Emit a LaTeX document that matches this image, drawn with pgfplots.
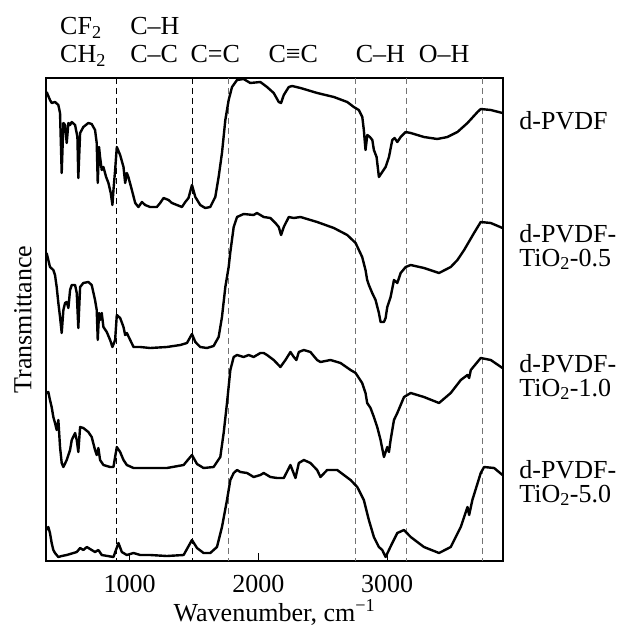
\documentclass[border=0pt]{standalone}
\usepackage{pgfplots}
\pgfplotsset{compat=1.18}
\usepackage{fontspec}
\setmainfont{Liberation Serif}
\newcommand{\bigf}{\fontsize{26}{24}\selectfont}
\begin{document}
\begin{tikzpicture}
\path[use as bounding box] (-46pt,-65pt) rectangle (571pt,561pt);
\begin{axis}[
  scale only axis, width=457pt, height=483pt,
  xmin=350, xmax=3900, ymin=78, ymax=561, y dir=reverse,
  xtick={1000,2000,3000}, xticklabels={1000,2000,3000},
  ytick=\empty, xtick pos=bottom, tick align=inside,
  major tick length=8pt,
  axis line style={line width=2.4pt},
  x tick style={line width=1pt, black},
  xticklabel style={font=\bigf, anchor=base, yshift=-31pt},
  xlabel={Wavenumber, cm\textsuperscript{−1}},
  xlabel style={font=\bigf, at={(axis description cs:0.5,0)}, anchor=base, yshift=-60pt},
  ylabel={Transmittance},
  ylabel style={font=\bigf, at={(axis description cs:-0.0503,0.5)}, anchor=center},
  clip=false,
]
% dashed guide lines
\addplot[black, line width=0.8pt, dash pattern=on 6pt off 4pt] coordinates {(900,78) (900,561)};
\addplot[black, line width=0.8pt, dash pattern=on 6pt off 4pt] coordinates {(1490,78) (1490,561)};
\addplot[black!55, line width=0.8pt, dash pattern=on 6pt off 4pt] coordinates {(1770,78) (1770,561)};
\addplot[black!55, line width=0.8pt, dash pattern=on 6pt off 4pt] coordinates {(2750,78) (2750,561)};
\addplot[black!55, line width=0.8pt, dash pattern=on 6pt off 4pt] coordinates {(3150,78) (3150,561)};
\addplot[black!55, line width=0.8pt, dash pattern=on 6pt off 4pt] coordinates {(3740,78) (3740,561)};
% d-PVDF
\addplot[black, line width=2.4pt, line join=round] coordinates {
(355,92)(381,100)(394,103)(420,102)(446,105)(459,113)(472,173)(485,123)(498,125)(511,143)
(524,123)(537,125)(550,122)(576,125)(594,137)(601,178)(615,133)(640,127)(679,123)(705,124)
(731,130)(744,143)(752,183)(762,147)(770,157)(783,170)(796,167)(817,177)(835,183)(853,193)
(866,205)(874,190)(887,170)(900,147)(926,155)(952,167)(965,183)(978,173)(990,177)(1017,190)
(1043,203)(1068,207)(1095,202)(1120,205)(1159,207)(1211,207)(1237,203)(1263,198)(1302,200)
(1328,203)(1367,205)(1406,207)(1432,202)(1457,198)(1484,185)(1510,197)(1548,205)(1587,208)
(1626,207)(1665,197)(1691,177)(1717,153)(1743,120)(1769,100)(1795,87)(1834,80)(1885,79)
(1937,83)(2015,82)(2067,87)(2119,93)(2158,102)(2176,103)(2197,95)(2236,87)(2262,86)(2327,88)
(2457,93)(2586,97)(2690,102)(2741,107)(2780,110)(2807,117)(2819,130)(2832,150)(2846,135)
(2866,137)(2885,140)(2897,150)(2918,157)(2936,177)(2962,172)(2988,167)(3014,157)(3040,140)
(3058,138)(3079,142)(3105,137)(3144,132)(3183,133)(3286,137)(3390,139)(3468,137)(3546,132)
(3624,123)(3702,112)(3727,109)(3805,110)(3896,113)
};
% d-PVDF-TiO2-0.5
\addplot[black, line width=2.4pt, line join=round] coordinates {
(355,253)(368,260)(381,267)(407,270)(420,275)(433,287)(446,303)(459,317)(472,333)(485,310)
(498,303)(511,302)(524,308)(537,290)(550,285)(576,285)(589,293)(601,328)(615,287)(640,283)
(679,282)(705,285)(731,300)(744,310)(752,340)(762,313)(770,320)(783,313)(796,327)(822,332)
(848,340)(866,347)(887,340)(900,315)(926,318)(952,327)(965,335)(978,333)(1004,340)(1030,347)
(1082,347)(1159,348)(1289,347)(1393,345)(1445,343)(1484,334)(1510,342)(1548,347)(1600,348)
(1652,346)(1691,337)(1717,317)(1743,287)(1769,267)(1782,252)(1808,227)(1834,217)(1885,214)
(1963,215)(1989,213)(2041,217)(2093,218)(2132,223)(2158,227)(2176,235)(2197,227)(2236,217)
(2275,218)(2327,217)(2456,222)(2586,228)(2690,235)(2755,243)(2806,257)(2832,270)(2845,280)
(2858,285)(2884,293)(2910,300)(2936,313)(2949,322)(2975,322)(2988,318)(3001,307)(3027,297)
(3053,280)(3079,283)(3105,273)(3144,267)(3183,265)(3286,268)(3403,273)(3494,267)(3546,260)
(3598,250)(3675,233)(3727,222)(3805,223)(3896,228)
};
% d-PVDF-TiO2-1.0
\addplot[black, line width=2.4pt, line join=round] coordinates {
(355,393)(368,392)(381,400)(394,407)(407,417)(420,423)(433,430)(446,420)(459,447)(472,463)
(485,467)(511,460)(537,450)(550,440)(576,433)(589,440)(601,452)(615,427)(640,428)(679,432)
(705,437)(731,450)(744,455)(757,448)(770,460)(796,465)(848,467)(874,467)(900,447)(926,452)
(952,460)(978,465)(1030,468)(1159,468)(1289,468)(1419,465)(1484,455)(1523,464)(1574,468)
(1652,467)(1704,457)(1730,433)(1756,403)(1782,370)(1808,357)(1834,355)(1885,357)(1925,355)
(1963,357)(2015,353)(2041,353)(2067,355)(2119,360)(2171,367)(2210,360)(2249,352)(2275,357)
(2295,360)(2314,352)(2353,350)(2404,352)(2456,360)(2482,362)(2560,360)(2638,363)(2716,370)
(2755,373)(2806,383)(2832,393)(2845,403)(2871,408)(2897,417)(2923,427)(2949,440)(2975,457)
(2988,452)(3001,447)(3014,452)(3027,440)(3053,420)(3079,413)(3131,397)(3183,393)(3286,397)
(3403,403)(3494,393)(3572,380)(3624,375)(3637,378)(3650,370)(3727,358)(3805,360)(3896,368)
};
% d-PVDF-TiO2-5.0
\addplot[black, line width=2.4pt, line join=round] coordinates {
(355,530)(368,527)(381,533)(394,543)(407,550)(420,553)(446,557)(472,556)(511,555)(563,553)
(589,552)(615,548)(640,550)(667,547)(705,550)(731,552)(757,550)(783,555)(874,557)(913,543)
(939,552)(978,555)(1030,553)(1082,555)(1159,555)(1289,556)(1419,555)(1484,540)(1523,548)
(1574,553)(1626,553)(1678,547)(1717,527)(1756,500)(1782,480)(1808,473)(1834,470)(1860,472)
(1912,473)(1963,477)(2015,475)(2041,473)(2093,477)(2145,478)(2197,478)(2249,465)(2288,478)
(2314,463)(2353,460)(2404,463)(2456,470)(2482,477)(2534,470)(2612,470)(2716,480)(2768,487)
(2819,500)(2858,520)(2897,537)(2936,547)(2962,550)(2988,557)(3014,550)(3040,543)(3079,533)
(3131,530)(3183,537)(3286,547)(3403,553)(3494,547)(3572,527)(3624,507)(3637,515)(3662,500)
(3727,473)(3753,467)(3831,468)(3896,475)
};
% series labels (base anchor = baseline of the last line)
\node[font=\bigf, anchor=base west] at (axis cs:4000,129) {d-PVDF};
\node[font=\bigf, anchor=base west, align=left] at (axis cs:4000,266) {d-PVDF-\\TiO\textsubscript{2}-0.5};
\node[font=\bigf, anchor=base west, align=left] at (axis cs:4000,396) {d-PVDF-\\TiO\textsubscript{2}-1.0};
\node[font=\bigf, anchor=base west, align=left] at (axis cs:4000,502) {d-PVDF-\\TiO\textsubscript{2}-5.0};
% band labels
\node[font=\bigf, anchor=base west, inner sep=0pt, align=left] at (axis cs:459,63) {CF\textsubscript{2}\\[4pt]CH\textsubscript{2}};
\node[font=\bigf, anchor=base west, inner sep=0pt, align=left] at (axis cs:1004,63) {C–H\\[4pt]C–C};
\node[font=\bigf, anchor=base west, inner sep=0pt] at (axis cs:1471,63) {C=C};
\node[font=\bigf, anchor=base west, inner sep=0pt] at (axis cs:2078,63) {C≡C};
\node[font=\bigf, anchor=base west, inner sep=0pt] at (axis cs:2755,63) {C–H};
\node[font=\bigf, anchor=base west, inner sep=0pt] at (axis cs:3245,63) {O–H};
\end{axis}
\end{tikzpicture}
\end{document}
